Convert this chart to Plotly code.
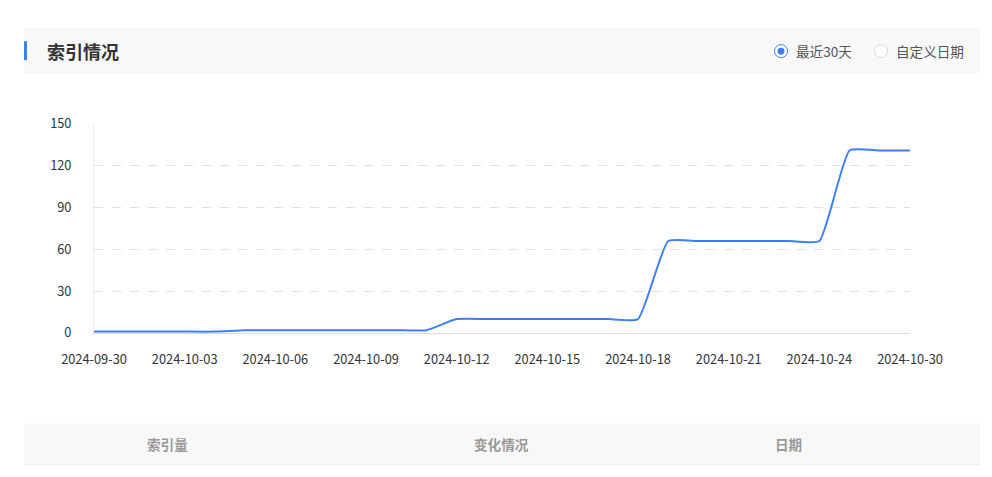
import plotly.graph_objects as go

dates = ["2024-09-30"] + [f"2024-10-{d:02d}" for d in range(1, 25)] + ["2024-10-26", "2024-10-28", "2024-10-30"]
index_counts = [1, 1, 1, 1, 1,
                2, 2, 2, 2, 2, 2, 2,
                10, 10, 10, 10, 10, 10, 10,
                66, 66, 66, 66, 66, 66,
                131, 131, 131]
tick_labels = [dates[i] for i in range(0, 27, 3)] + [dates[-1]]
y_ticks = [0, 30, 60, 90, 120, 150]

title_text = "索引情况"
radio_labels = ["最近30天", "自定义日期"]
table_headers = ["索引量", "变化情况", "日期"]

W, H = 992, 477
L, R, T, B = 94, 910, 124, 333.5
FONT = "Noto Sans CJK SC, Microsoft YaHei, sans-serif"
BLUE = "#3d80f5"


def px(x):
    return (x - L) / (R - L)


def py(y):
    return (B - y) / (B - T)


fig = go.Figure()
fig.add_trace(go.Scatter(
    x=dates, y=index_counts, mode="lines",
    line=dict(color=BLUE, width=2, shape="spline", smoothing=0.45),
    hoverinfo="x+y", showlegend=False,
))

shapes = []
# header band
shapes.append(dict(type="rect", xref="paper", yref="paper", x0=px(24), x1=px(980), y0=py(73), y1=py(28),
                   fillcolor="#f8f8f8", line=dict(width=0), layer="below"))
shapes.append(dict(type="rect", xref="paper", yref="paper", x0=px(24), x1=px(27), y0=py(60), y1=py(41),
                   fillcolor=BLUE, line=dict(width=0)))
# radio buttons
shapes.append(dict(type="circle", xref="paper", yref="paper", x0=px(774.5), x1=px(787.5), y0=py(57.5), y1=py(44.5),
                   fillcolor="white", line=dict(color=BLUE, width=1)))
shapes.append(dict(type="circle", xref="paper", yref="paper", x0=px(777.5), x1=px(784.5), y0=py(54.5), y1=py(47.5),
                   fillcolor=BLUE, line=dict(width=0)))
shapes.append(dict(type="circle", xref="paper", yref="paper", x0=px(874.5), x1=px(887.5), y0=py(57.5), y1=py(44.5),
                   fillcolor="white", line=dict(color="#dcdcdc", width=1)))
# table header band
shapes.append(dict(type="rect", xref="paper", yref="paper", x0=px(24), x1=px(980), y0=py(465), y1=py(424),
                   fillcolor="#f8f8f8", line=dict(width=0), layer="below"))
shapes.append(dict(type="line", xref="paper", yref="paper", x0=px(24), x1=px(980), y0=py(465.5), y1=py(465.5),
                   line=dict(color="#ececec", width=1)))

annotations = []
annotations.append(dict(text=f"<b>{title_text}</b>", xref="paper", yref="paper", x=px(45), y=py(51),
                        xanchor="left", yanchor="middle", showarrow=False,
                        font=dict(family=FONT, size=18, color="#333333")))
annotations.append(dict(text=radio_labels[0], xref="paper", yref="paper", x=px(794), y=py(51),
                        xanchor="left", yanchor="middle", showarrow=False,
                        font=dict(family=FONT, size=13.6, color="#555555")))
annotations.append(dict(text=radio_labels[1], xref="paper", yref="paper", x=px(894), y=py(51),
                        xanchor="left", yanchor="middle", showarrow=False,
                        font=dict(family=FONT, size=13.6, color="#555555")))
for label, cx in zip(table_headers, [167, 501, 788]):
    annotations.append(dict(text=f"<b>{label}</b>", xref="paper", yref="paper", x=px(cx), y=py(445),
                            xanchor="center", yanchor="middle", showarrow=False,
                            font=dict(family=FONT, size=13.6, color="#999999")))

fig.update_layout(
    width=W, height=H,
    margin=dict(l=L, r=W - R, t=T, b=H - B, pad=0),
    paper_bgcolor="white", plot_bgcolor="white",
    font=dict(family=FONT, size=12, color="#333333"),
    shapes=shapes, annotations=annotations,
    xaxis=dict(type="category", range=[0, len(dates) - 1], tickmode="array",
               tickvals=tick_labels, ticktext=tick_labels, showgrid=False, zeroline=False,
               showline=True, linecolor="#d9d9d9", linewidth=1, ticks="", ticklabelstandoff=15,
               tickfont=dict(family=FONT, size=12.8, color="#333333")),
    yaxis=dict(range=[0, 150], tickmode="array", tickvals=y_ticks, showgrid=True,
               gridcolor="#e0e0e0", griddash="dash", gridwidth=1, zeroline=False,
               showline=True, linecolor="#ececec", linewidth=1, ticks="", ticklabelstandoff=19,
               tickfont=dict(family=FONT, size=12.8, color="#333333")),
    hovermode="closest",
)

fig.write_html("out.html")
